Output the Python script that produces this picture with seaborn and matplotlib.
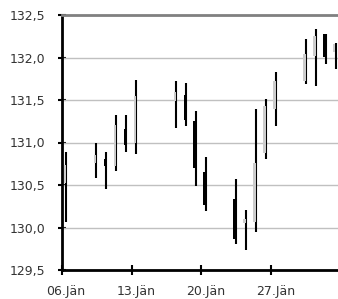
import pandas as pd
import matplotlib
matplotlib.use("Agg")
import matplotlib.pyplot as plt
import matplotlib.transforms as mtransforms
import seaborn as sns

# Kursdaten (Tageskerzen)
dates = ["2014-01-06", "2014-01-09", "2014-01-10", "2014-01-11", "2014-01-12",
         "2014-01-13", "2014-01-17", "2014-01-18", "2014-01-19", "2014-01-20",
         "2014-01-23", "2014-01-24", "2014-01-25", "2014-01-26", "2014-01-27",
         "2014-01-30", "2014-01-31", "2014-02-01", "2014-02-02"]
opens = [130.52, 130.76, 130.80, 130.72, 131.16, 131.00, 131.49, 131.56, 131.25, 130.65,
         130.34, 130.05, 130.07, 130.88, 131.40, 131.72, 132.02, 132.28, 132.06]
highs = [130.89, 130.99, 130.89, 131.32, 131.32, 131.74, 131.72, 131.70, 131.37, 130.83,
         130.57, 130.21, 131.39, 131.51, 131.83, 132.22, 132.34, 132.28, 132.17]
lows = [130.07, 130.58, 130.45, 130.67, 130.89, 130.87, 131.17, 131.20, 130.49, 130.20,
        129.81, 129.74, 129.95, 130.80, 131.19, 131.69, 131.67, 131.92, 131.87]
closes = [130.74, 130.85, 130.72, 131.21, 130.97, 131.55, 131.59, 131.27, 130.70, 130.27,
          129.87, 130.10, 130.76, 131.43, 131.72, 132.04, 132.25, 132.01, 132.16]

tick_dates = ["2014-01-06", "2014-01-13", "2014-01-20", "2014-01-27"]
tick_labels = ["06.Jän", "13.Jän", "20.Jän", "27.Jän"]
y_ticks = [129.5, 130.0, 130.5, 131.0, 131.5, 132.0, 132.5]

df = pd.DataFrame({"date": pd.to_datetime(dates), "open": opens, "high": highs,
                   "low": lows, "close": closes})
start = pd.Timestamp("2014-01-06")
df["x"] = (df["date"] - start).dt.days + 0.45
df["up"] = df["close"] >= df["open"]
df["color"] = df["up"].map({True: "#cccccc", False: "black"})

sns.set_style("white")
plt.rcParams["font.family"] = ["DejaVu Sans"]

fig = plt.figure(figsize=(3.38, 2.99), dpi=100)
ax = fig.add_axes([62 / 338, 1 - 270 / 299, 1 - 62 / 338, 255 / 299])

for yv in y_ticks:
    ax.axhline(yv, color="#c0c0c0", lw=1.0, zorder=1)

# Dochte
ax.vlines(df["x"], df["low"], df["high"], color="black", lw=1.5, zorder=2)
# Koerper
body_lo = df[["open", "close"]].min(axis=1)
body_hi = df[["open", "close"]].max(axis=1)
ax.bar(df["x"] - 0.13, body_hi - body_lo, bottom=body_lo, width=0.25,
       color=df["color"], linewidth=0, zorder=3)

ax.set_xlim(0, 27.7)
ax.set_ylim(129.5, 132.5)
ax.set_yticks(y_ticks)
ax.set_yticklabels([f"{v:.1f}".replace(".", ",") for v in y_ticks])
tick_x = [(pd.Timestamp(d) - start).days for d in tick_dates]
ax.set_xticks(tick_x)
ax.set_xticklabels(tick_labels)

ax.tick_params(axis="both", labelsize=9, labelcolor="#333333", color="black")
ax.tick_params(axis="y", direction="inout", length=6, width=1.5, pad=9)
ax.tick_params(axis="x", direction="inout", length=7, width=1.5, pad=7)
ax.tick_params(left=True, bottom=True)

# Datumsbeschriftung leicht nach rechts versetzt
shift = mtransforms.ScaledTranslation(4 / 100, 0, fig.dpi_scale_trans)
for lbl in ax.get_xticklabels():
    lbl.set_transform(lbl.get_transform() + shift)

sns.despine(ax=ax, right=True, top=False)
for s in ["left", "bottom"]:
    ax.spines[s].set_color("black")
    ax.spines[s].set_linewidth(2)
ax.spines["top"].set_color("#808080")
ax.spines["top"].set_linewidth(2)
ax.spines["top"].set_zorder(4)

fig.savefig("out.png", dpi=100)
